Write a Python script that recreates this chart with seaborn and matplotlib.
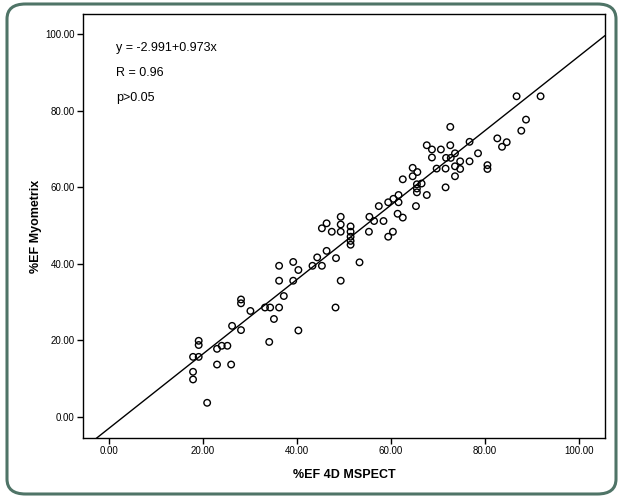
import numpy as np
import pandas as pd
import matplotlib
matplotlib.use("Agg")
import matplotlib.pyplot as plt
from matplotlib.patches import FancyBboxPatch
import seaborn as sns

# ---- data ----
ef_mspect = [17.9, 17.9, 17.9, 19.1, 19.1, 19.1, 20.9, 23.0, 23.0, 24.0, 25.2, 26.0, 26.2,
             28.1, 28.1, 28.1, 30.1, 33.2, 34.3, 36.2, 35.1, 34.1, 36.2, 36.2, 37.2, 39.2,
             39.2, 40.3, 40.3,
             43.3, 44.3, 45.3, 46.3, 48.3, 53.3, 48.2, 49.3, 45.3, 46.3, 47.4, 49.3, 49.3,
             49.3, 51.4, 51.4, 51.4, 51.4, 51.4, 55.4, 56.4, 58.4, 55.3, 57.4, 59.4, 60.5,
             61.6, 61.6, 61.4, 62.5, 60.4, 59.4,
             64.6, 65.6, 64.6, 62.5, 66.5, 65.5, 65.5, 65.5, 67.6, 65.3, 67.6, 68.7, 68.7,
             70.6, 72.6, 71.7, 72.7, 73.6, 74.7, 76.7, 76.7, 78.5, 69.7, 71.6, 73.6, 74.7,
             73.6, 71.6, 72.6, 80.5, 80.5, 82.6, 84.6, 83.6, 87.7, 88.7, 86.7, 91.8]
ef_myometrix = [11.8, 9.8, 15.7, 15.7, 19.9, 18.8, 3.7, 17.8, 13.7, 18.6, 18.6, 13.7, 23.8,
                22.7, 30.7, 29.7, 27.7, 28.6, 28.6, 28.6, 25.6, 19.6, 39.5, 35.6, 31.6, 40.5,
                35.6, 38.4, 22.6,
                39.5, 41.7, 39.5, 43.4, 41.5, 40.4, 28.6, 35.6, 49.3, 50.6, 48.4, 52.3, 50.3,
                48.4, 49.8, 48.4, 47.1, 46.0, 45.0, 52.3, 51.2, 51.2, 48.4, 55.1, 56.1, 57.0,
                58.0, 56.1, 53.1, 52.1, 48.4, 47.1,
                65.1, 64.0, 62.9, 62.1, 61.0, 60.8, 59.7, 58.7, 58.0, 55.1, 71.0, 69.9, 67.8,
                69.9, 71.0, 67.7, 67.7, 68.9, 66.8, 71.9, 66.8, 68.9, 64.9, 64.9, 65.5, 64.8,
                62.9, 60.0, 75.8, 65.8, 64.8, 72.8, 71.8, 70.6, 74.8, 77.7, 83.8, 83.8]

intercept = -2.991
slope = 0.973
annotations = ["y = -2.991+0.973x", "R = 0.96", "p>0.05"]
tick_values = [0, 20, 40, 60, 80, 100]
tick_labels = ["0.00", "20.00", "40.00", "60.00", "80.00", "100.00"]

df = pd.DataFrame({"x": ef_mspect, "y": ef_myometrix})

sns.set_style("white")
plt.rcParams["font.family"] = ["Liberation Sans", "DejaVu Sans"]
plt.rcParams["text.color"] = "black"
plt.rcParams["axes.labelcolor"] = "black"
plt.rcParams["xtick.color"] = "black"
plt.rcParams["ytick.color"] = "black"

W, H = 620, 498
fig = plt.figure(figsize=(W / 100, H / 100), dpi=100)
fig.patch.set_facecolor("white")

# rounded frame around the figure
frame = FancyBboxPatch((7 / W, 4 / H), (616 - 7) / W, (494 - 4) / H,
                       boxstyle="round,pad=0,rounding_size=0.03",
                       transform=fig.transFigure, facecolor="none",
                       edgecolor="#4f7467", linewidth=2.2, zorder=0)
fig.patches.append(frame)

ax = fig.add_axes([83 / W, 1 - 438 / H, (605 - 83) / W, (438 - 14) / H])
ax.set_facecolor("white")

sns.scatterplot(data=df, x="x", y="y", ax=ax, marker="o", s=22,
                facecolor="none", edgecolor="black", linewidth=1.0, legend=False,
                zorder=3)

xlim = (-5.5, 105.5)
ylim = (-5.5, 105.3)
ax.set_xlim(xlim)
ax.set_ylim(ylim)
xl = np.array(xlim)
ax.plot(xl, intercept + slope * xl, color="black", linewidth=1.0, zorder=2)

ax.set_xticks(tick_values)
ax.set_xticklabels(tick_labels)
ax.set_yticks(tick_values)
ax.set_yticklabels(tick_labels)
ax.tick_params(axis="both", direction="out", length=4, width=1, labelsize=7,
               colors="black", pad=2, bottom=True, left=True)

for sp in ax.spines.values():
    sp.set_visible(True)
    sp.set_color("black")
    sp.set_linewidth(1.0)

ax.set_xlabel("%EF 4D MSPECT", fontsize=9, fontweight="bold", labelpad=9, color="black")
ax.set_ylabel("%EF Myometrix", fontsize=9, fontweight="bold", labelpad=2, color="black")

ys = [0.92, 0.862, 0.803]
for txt, yy in zip(annotations, ys):
    ax.text(0.063, yy, txt, transform=ax.transAxes, fontsize=9, va="center", ha="left",
            color="black")

fig.savefig("out.png", dpi=100, facecolor="white")
